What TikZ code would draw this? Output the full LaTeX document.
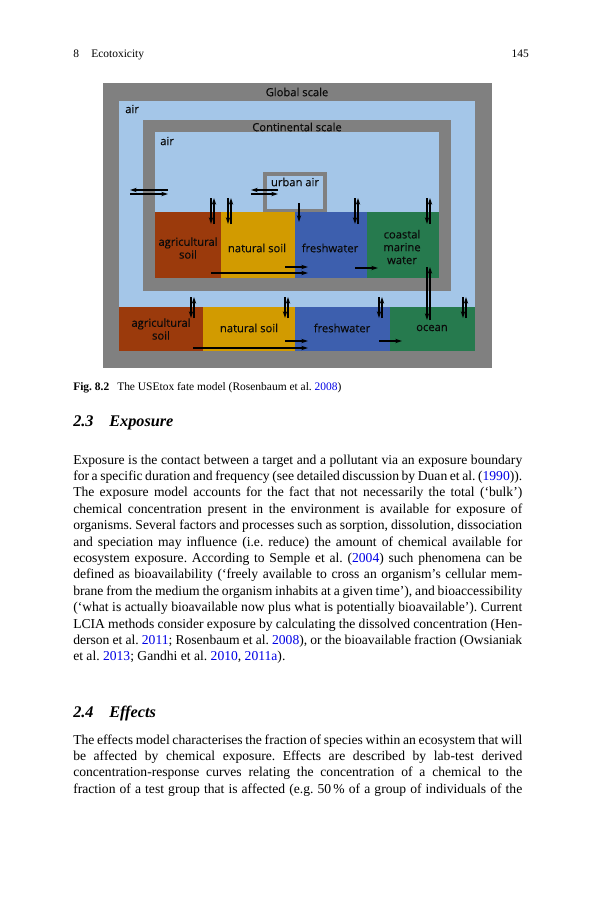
\documentclass[tikz,border=0pt]{standalone}
\usepackage{fontspec}
\setmainfont{Liberation Serif}
\newfontfamily\figfont[FakeBold=0.25]{Open Sans}
\usetikzlibrary{arrows.meta}
\definecolor{frame}{RGB}{128,128,128}
\definecolor{airblue}{RGB}{164,198,232}
\definecolor{agri}{RGB}{155,58,12}
\definecolor{natsoil}{RGB}{210,155,0}
\definecolor{fresh}{RGB}{61,95,174}
\definecolor{sea}{RGB}{38,122,78}
\definecolor{figtext}{RGB}{10,10,10}
\definecolor{linkblue}{RGB}{0,0,230}
\newcommand{\cit}[1]{\textcolor{linkblue}{#1}}
\frenchspacing
\begin{document}
\begin{tikzpicture}[x=0.75pt,y=-0.75pt,
  lbl/.style={font=\figfont\fontsize{8.4}{9.6}\selectfont,text=figtext,align=center,inner sep=0pt},
  flow/.style={-{Stealth[length=5pt,width=3.2pt]},line width=0.8pt,black},
  body/.style={anchor=base west,inner sep=0pt,text width=336.75pt,
    font=\fontsize{10.2}{12.3}\selectfont,align=justify},
  head/.style={anchor=base west,inner sep=0pt,font=\fontsize{12.2}{14}\selectfont\bfseries\itshape}]
\useasboundingbox (0,0) rectangle (593,900);
\fill[white] (0,0) rectangle (593,900);

% running head
\node[anchor=base west,inner sep=0pt,font=\fontsize{8.6}{10}\selectfont] (hnum) at (73,57) {8};
\node[anchor=base west,inner sep=0pt,font=\fontsize{8.6}{10}\selectfont] (htitle) at (91,57) {Ecotoxicity};
\node[anchor=base east,inner sep=0pt,font=\fontsize{8.6}{10}\selectfont] (hpage) at (529,57) {145};

% ---------- figure ----------
\fill[frame] (103,83) rectangle (492,368);
\fill[airblue] (119,101) rectangle (475,351);
\fill[frame] (143,120) rectangle (451,291);
\fill[airblue] (155,132) rectangle (439,278);
\fill[frame] (263,172) rectangle (327,212);
\fill[airblue] (267,176) rectangle (323,209);
% continental compartments
\fill[agri] (155,212) rectangle (221,278);
\fill[natsoil] (221,212) rectangle (295,278);
\fill[fresh] (295,212) rectangle (367,278);
\fill[sea] (367,212) rectangle (439,278);
% global compartments
\fill[agri] (119,307) rectangle (203,351);
\fill[natsoil] (203,307) rectangle (295,351);
\fill[fresh] (295,307) rectangle (390,351);
\fill[sea] (390,307) rectangle (475,351);

\node[lbl] (global) at (297,92) {Global scale};
\node[lbl,anchor=west] (gair) at (125,109) {air};
\node[lbl] (cont) at (297,127) {Continental scale};
\node[lbl,anchor=west] (cair) at (160,141) {air};
\node[lbl] (urban) at (295,182) {urban air};
\node[lbl] (cagri) at (188,248) {agricultural\\soil};
\node[lbl] (cnat) at (257,248) {natural soil};
\node[lbl] (cfresh) at (330,248) {freshwater};
\node[lbl] (ccoast) at (402,247) {coastal\\marine\\water};
\node[lbl] (gagri) at (161,329) {agricultural\\soil};
\node[lbl] (gnat) at (249,328) {natural soil};
\node[lbl] (gfresh) at (342,328) {freshwater};
\node[lbl] (gocean) at (432,328) {ocean};

% exchange global <-> continental air
\draw[flow] (168,190) -- (130,190);
\draw[flow] (130,194) -- (168,194);
% exchange continental <-> urban air
\draw[flow] (278,190) -- (251,190);
\draw[flow] (251,194) -- (278,194);
% air <-> continental compartments
\foreach \xx in {211,228,355,427}{
  \draw[flow] (\xx,198) -- (\xx,224);
  \draw[flow] (\xx+3,224) -- (\xx+3,198);
}
\draw[flow] (299,203) -- (299,222);
% runoff, continental
\draw[flow] (211,273) -- (308,273);
\draw[flow] (285,267) -- (308,267);
\draw[flow] (355,268) -- (378,268);
% coastal <-> ocean
\draw[flow] (427,267) -- (427,320);
\draw[flow] (430,320) -- (430,267);
% air <-> global compartments
\foreach \xx in {191,285,379,463}{
  \draw[flow] (\xx,297) -- (\xx,318);
  \draw[flow] (\xx+3,318) -- (\xx+3,297);
}
% runoff, global
\draw[flow] (193,348) -- (308,348);
\draw[flow] (285,341) -- (308,341);
\draw[flow] (379,341) -- (402,341);

% caption
\node[anchor=base west,inner sep=0pt,font=\fontsize{8.6}{10}\selectfont] (cap) at (73,390)
  {\textbf{Fig. 8.2}\hspace{6pt}The USEtox fate model (Rosenbaum et al. \cit{2008})};

% section 2.3
\node[head] (h23) at (73,426) {2.3};
\node[head] (h23t) at (109,426) {Exposure};

\node[body] (p1) at (73,464) {\hyphenpenalty=10000\tolerance=10000
Exposure is the contact between a target and a pollutant via an exposure boundary\linebreak
for a specific duration and frequency (see detailed discussion by Duan et al. (\cit{1990})).\linebreak
The exposure model accounts for the fact that not necessarily the total (‘bulk’)\linebreak
chemical concentration present in the environment is available for exposure of\linebreak
organisms. Several factors and processes such as sorption, dissolution, dissociation\linebreak
and speciation may influence (i.e. reduce) the amount of chemical available for\linebreak
ecosystem exposure. According to Semple et al. (\cit{2004}) such phenomena can be\linebreak
defined as bioavailability (‘freely available to cross an organism’s cellular mem-\linebreak
brane from the medium the organism inhabits at a given time’), and bioaccessibility\linebreak
(‘what is actually bioavailable now plus what is potentially bioavailable’). Current\linebreak
LCIA methods consider exposure by calculating the dissolved concentration (Hen-\linebreak
derson et al. \cit{2011}; Rosenbaum et al. \cit{2008}), or the bioavailable fraction (Owsianiak\linebreak
et al. \cit{2013}; Gandhi et al. \cit{2010}, \cit{2011a}).};

% section 2.4
\node[head] (h24) at (73,717) {2.4};
\node[head] (h24t) at (109,717) {Effects};

\node[body] (p2) at (73,744) {\hyphenpenalty=10000\tolerance=10000
The effects model characterises the fraction of species within an ecosystem that will\linebreak
be affected by chemical exposure. Effects are described by lab-test derived\linebreak
concentration-response curves relating the concentration of a chemical to the\linebreak
fraction of a test group that is affected (e.g. 50\,\% of a group of individuals of the\linebreak\hbox{}};
\end{tikzpicture}
\end{document}
